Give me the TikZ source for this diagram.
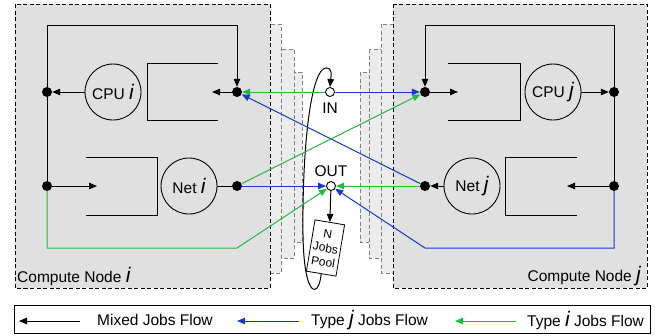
\documentclass[tikz,border=0pt]{standalone}
\usepackage{fontspec}
\setmainfont{Liberation Sans}
\usetikzlibrary{arrows.meta}
\definecolor{flowgreen}{RGB}{30,190,60}
\definecolor{flowblue}{RGB}{25,55,215}
\definecolor{boxgray}{RGB}{224,224,224}
\definecolor{shadowgray}{RGB}{236,236,236}
\definecolor{shadowline}{RGB}{130,130,130}
\newcommand\ivar[1]{{\fontsize{21}{21}\selectfont\itshape #1}}
\begin{document}
\begin{tikzpicture}[x=1pt,y=-1pt,
  font=\fontsize{15.5}{17}\selectfont,
  >={Triangle[length=8pt,width=6.5pt]},
  mainbox/.style={draw=black,fill=boxgray,dash pattern=on 4pt off 2.5pt,line width=0.9pt},
  shadowbox/.style={draw=shadowline,fill=shadowgray,dash pattern=on 4pt off 2.5pt,line width=0.8pt},
  dot/.style={circle,fill=black,inner sep=0pt,minimum size=10pt},
  port/.style={circle,draw=black,fill=white,inner sep=0pt,minimum size=9pt,line width=0.9pt},
  server/.style={circle,draw=black,line width=0.9pt,minimum size=56pt,inner sep=0pt},
  flow/.style={line width=1pt},
  gflow/.style={flow,draw=flowgreen},
  bflow/.style={flow,draw=flowblue}]
\useasboundingbox (0,0) rectangle (655,335);
% ---- shadow stacks and compute nodes ----
\draw[shadowbox] (200,72) rectangle (302,242);
\draw[shadowbox] (200,49) rectangle (294,258);
\draw[shadowbox] (200,24) rectangle (281,273);
\draw[mainbox] (15,4) rectangle (270,288);
\draw[shadowbox] (360,72) rectangle (460,242);
\draw[shadowbox] (369,49) rectangle (460,258);
\draw[shadowbox] (381,24) rectangle (460,273);
\draw[mainbox] (393,4) rectangle (647,288);
% ---- left compute node ----
\node[dot] (dL1) at (47,92) {};
\node[dot] (dL2) at (47,186) {};
\node[dot] (dR1) at (237,92) {};
\node[dot] (dR2) at (237,186) {};
\node[server] (cpui) at (113,92) {CPU \ivar{i}};
\node[server] (neti) at (189,186) {Net \ivar{i}};
\coordinate (qiend) at (212,92);
\coordinate (qniend) at (97,186);
\draw[flow] (218,63) -- (147,63) -- (147,120) -- (218,120);
\draw[flow] (86,157) -- (157,157) -- (157,215) -- (86,215);
\draw[flow,->] (dR1) -- (qiend);
\draw[flow,->] (cpui) -- (dL1);
\draw[flow,->] (dL1) |- (237,25) -- (dR1);
\draw[flow] (dL1) -- (dL2);
\draw[flow,->] (dL2) -- (qniend);
\draw[flow] (neti) -- (dR2);
\node[anchor=west,inner sep=0pt] (cni) at (17,276) {Compute Node \ivar{i}};
% ---- right compute node ----
\node[dot] (eL1) at (425,92) {};
\node[dot] (eL2) at (425,186) {};
\node[dot] (eR1) at (614,92) {};
\node[dot] (eR2) at (614,186) {};
\node[server] (cpuj) at (553,92) {CPU \ivar{j}};
\node[server] (netj) at (472,186) {Net \ivar{j}};
\coordinate (qjend) at (458,92);
\coordinate (qnjend) at (567,186);
\draw[flow] (448,63) -- (520,63) -- (520,120) -- (448,120);
\draw[flow] (577,157) -- (505,157) -- (505,215) -- (577,215);
\draw[flow,->] (eL1) -- (qjend);
\draw[flow,->] (cpuj) -- (eR1);
\draw[flow,->] (eR1) |- (425,25) -- (eL1);
\draw[flow] (eR1) -- (eR2);
\draw[flow,->] (eR2) -- (qnjend);
\draw[flow,->] (netj) -- (eL2);
\node[anchor=east,inner sep=0pt] (cnj) at (641,276) {Compute Node \ivar{j}};
% ---- switch ----
\node[port] (IN) at (330,92) {};
\node[port] (OUT) at (331,186) {};
\node[inner sep=0pt] (inlbl) at (330,108) {IN};
\node[inner sep=0pt] (outlbl) at (331,171) {OUT};
\node[draw,fill=white,line width=0.8pt,rotate=-9.5,minimum width=30pt,minimum height=52pt,
  inner sep=0pt,align=center,font=\fontsize{12}{14.5}\selectfont] (pool) at (325.5,248) {N\\Jobs\\Pool};
\draw[flow,->] (OUT) -- (pool.north);
\draw[flow,->] (pool.south) .. controls (319,298) and (304,300) .. (303,235)
  .. controls (302,140) and (312,68) .. (326,68)
  .. controls (333,68) and (331,76) .. (IN.north);
% ---- flows ----
\draw[gflow,->] (IN) -- (dR1);
\draw[bflow,->] (IN) -- (eL1);
\draw[bflow,->] (eL2) -- (dR1);
\draw[gflow,->] (dR2) -- (eL1);
\draw[bflow,->] (dR2) -- (OUT);
\draw[gflow,->] (eL2) -- (OUT);
\draw[gflow,->] (dL2) -- (47,248) -- (237,248) -- (OUT);
\draw[bflow,->] (eR2) -- (614,248) -- (425,248) -- (OUT);
% ---- legend ----
\node[draw,line width=0.8pt,minimum width=636pt,minimum height=28pt,inner sep=0pt,anchor=north west] (legend) at (14,305) {};
\coordinate (la1s) at (80,321); \coordinate (la1e) at (19,321);
\coordinate (la2s) at (299,321); \coordinate (la2e) at (237,321);
\coordinate (la3s) at (516,321); \coordinate (la3e) at (455,321);
\draw[flow,->] (la1s) -- (la1e);
\draw[bflow,->] (la2s) -- (la2e);
\draw[gflow,->] (la3s) -- (la3e);
\node[anchor=west,inner sep=0pt] (lt1) at (97,320) {Mixed Jobs Flow};
\node[anchor=west,inner sep=0pt] (lt2) at (311,320) {Type \ivar{j} Jobs Flow};
\node[anchor=west,inner sep=0pt] (lt3) at (527,320) {Type \ivar{i} Jobs Flow};
\end{tikzpicture}
\end{document}
